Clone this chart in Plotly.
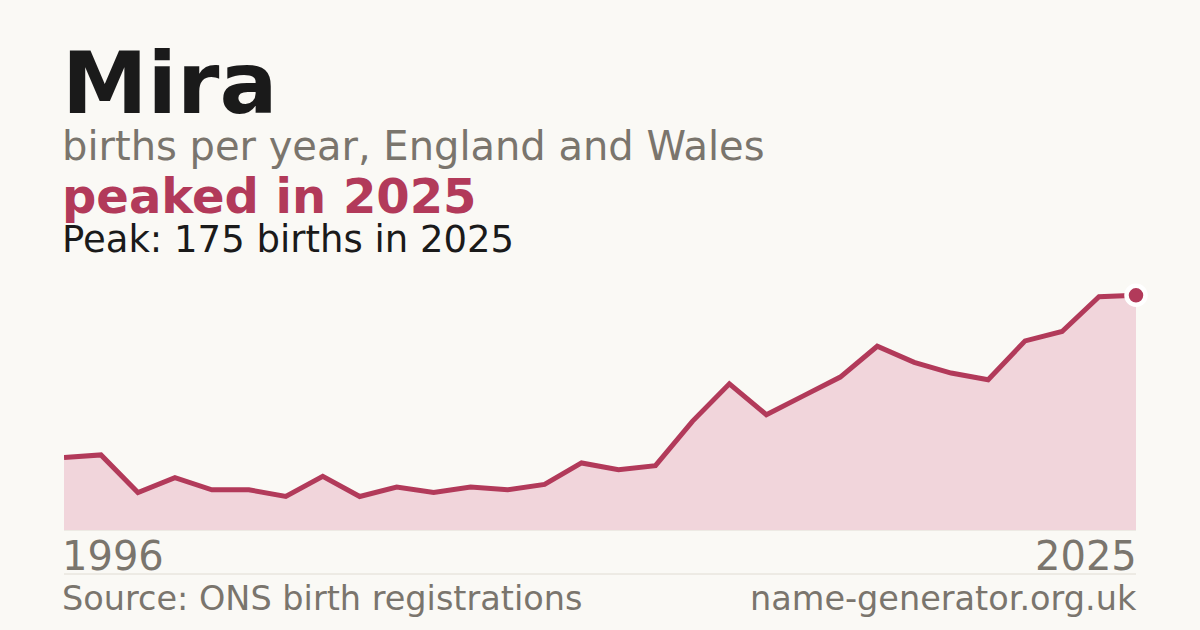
import plotly.graph_objects as go

# births per year for the name, England and Wales
years = list(range(1996, 2026))
births = [54, 56, 28, 39, 30, 30, 25, 40, 25, 32,
          28, 32, 30, 34, 50, 45, 48, 81, 109, 86,
          100, 114, 137, 125, 117, 112, 141, 148, 174, 175]

name = 'Mira'
subtitle = 'births per year, England and Wales'
headline = 'peaked in 2025'
peak_note = 'Peak: 175 births in 2025'
source = 'Source: ONS birth registrations'
site = 'name-generator.org.uk'

BG = '#faf9f5'
ACCENT = '#b23a5a'
FILL = '#f1d5db'
INK = '#1a1a1a'
GREY = '#7a756d'
RULE = '#e0dcd3'
FONT = 'DejaVu Sans'

W, H = 1200, 630
L, R, T, B = 64, 64, 280, 100
plot_h = H - T - B


def py(y_px):
    # pixel row -> paper y
    return (H - B - y_px) / plot_h


def px(x_px):
    return (x_px - L) / (W - L - R)


peak_i = births.index(max(births))

fig = go.Figure()

fig.add_trace(go.Scatter(
    x=years, y=births,
    mode='lines',
    line=dict(color=ACCENT, width=5),
    fill='tozeroy',
    fillcolor=FILL,
    cliponaxis=False,
    hoverinfo='skip'))

fig.add_trace(go.Scatter(
    x=[years[peak_i]], y=[births[peak_i]],
    mode='markers',
    marker=dict(color=ACCENT, size=19, line=dict(color='white', width=4.5)),
    cliponaxis=False,
    hoverinfo='skip'))


def label(text, x, y_base, size, color, bold=False, anchor='left'):
    # annotations carry a few px of padding, nudge them back onto the edge
    x = x - 3 if anchor == 'left' else x + 2
    fig.add_annotation(
        text='<b>%s</b>' % text if bold else text,
        xref='paper', yref='paper',
        x=px(x), y=py(y_base + 0.24 * size),
        xanchor=anchor, yanchor='bottom',
        showarrow=False, borderpad=0,
        font=dict(family=FONT, size=size, color=color))


label(name, 64, 113, 86, INK, bold=True)
label(subtitle, 64, 160, 40, GREY)
label(headline, 64, 213, 48, ACCENT, bold=True)
label(peak_note, 64, 253, 37, INK)
label(str(years[0]), 64, 570, 40, GREY)
label(str(years[-1]), 1136, 570, 40, GREY, anchor='right')
label(source, 64, 611, 33.5, GREY)
label(site, 1136, 611, 33.5, GREY, anchor='right')

# baseline under the area and thin rule above the footer
fig.add_shape(type='line', xref='paper', yref='paper', layer='below',
              x0=0, x1=1, y0=0, y1=0,
              line=dict(color=RULE, width=1))
fig.add_shape(type='line', xref='paper', yref='paper',
              x0=0, x1=1, y0=py(574), y1=py(574),
              line=dict(color=RULE, width=1))

fig.update_layout(
    width=W, height=H,
    margin=dict(l=L, r=R, t=T, b=B),
    paper_bgcolor=BG, plot_bgcolor=BG,
    showlegend=False,
    xaxis=dict(range=[years[0], years[-1]], visible=False, fixedrange=True),
    yaxis=dict(range=[0, 186.4], visible=False, fixedrange=True),
)

fig.write_html('out.html', config={'displayModeBar': False},
               post_script="document.body.style.margin='0';")
